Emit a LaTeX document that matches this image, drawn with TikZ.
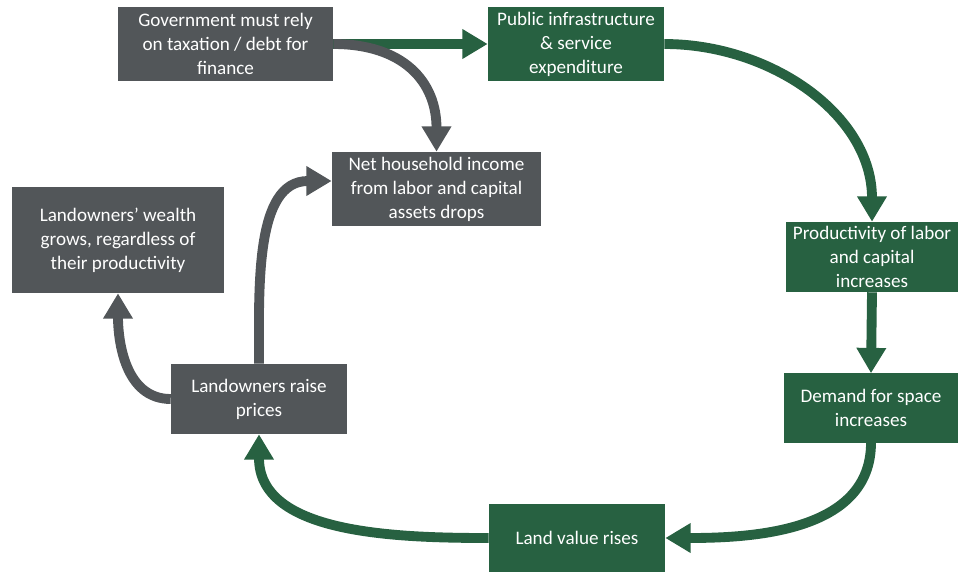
\documentclass[tikz,border=0pt]{standalone}
\usepackage{fontspec}
\setmainfont{Carlito}
\usetikzlibrary{arrows.meta}
\definecolor{boxgrey}{HTML}{525659}
\definecolor{boxgreen}{HTML}{276141}
\tikzset{
  greybox/.style={fill=boxgrey,text=white,align=center,inner sep=2pt,font=\fontsize{13.6}{17}\selectfont},
  greenbox/.style={greybox,fill=boxgreen},
  greyarrow/.style={draw=boxgrey,line width=7pt,-{Triangle[width=20pt,length=18pt]}},
  greenarrow/.style={greyarrow,draw=boxgreen}
}
\begin{document}
\begin{tikzpicture}[x=0.025cm,y=-0.025cm]
	\useasboundingbox (0,0) rectangle (960,573);
	\node[greybox,minimum width=5.375cm,minimum height=1.85cm] (gov) at (225.5,44){Government must rely\\on taxation / debt for\\finance};
	\node[greenbox,minimum width=4.4cm,minimum height=1.85cm] (pub) at (576,44){Public infrastructure\\\& service\\expenditure};
	\node[greybox,minimum width=5.225cm,minimum height=1.85cm] (net) at (436.5,189){Net household income\\from labor and capital\\assets drops};
	\node[greybox,minimum width=5.3cm,minimum height=2.65cm] (wealth) at (118,240){Landowners’ wealth\\grows, regardless of\\their productivity};
	\node[greybox,minimum width=4.4cm,minimum height=1.75cm] (raise) at (259,399){Landowners raise\\prices};
	\node[greenbox,minimum width=4.3cm,minimum height=1.75cm] (prod) at (872,257){Productivity of labor\\and capital\\increases};
	\node[greenbox,minimum width=4.35cm,minimum height=1.725cm] (dem) at (871,408){Demand for space\\increases};
	\node[greenbox,minimum width=4.4cm,minimum height=1.675cm] (land) at (577,538){Land value rises};
	% green loop
	\draw[greenarrow] (gov.east) -- (pub.west);
	\draw[greenarrow] (pub.east) to[out=0,in=90] (prod.north);
	\draw[greenarrow] (prod.south) -- (dem.north);
	\draw[greenarrow] (dem.south) to[out=270,in=0] (land.east);
	\draw[greenarrow] (land.west) to[out=180,in=270] (raise.south);
	% grey arrows
	\draw[greyarrow] (gov.east) to[out=0,in=90,looseness=1.2] (net.north);
	\draw[greyarrow] (raise.north) to[out=90,in=180] ([yshift=0.2cm]net.west);
	\draw[greyarrow] (raise.west) to[out=180,in=270] (wealth.south);
\end{tikzpicture}
\end{document}
